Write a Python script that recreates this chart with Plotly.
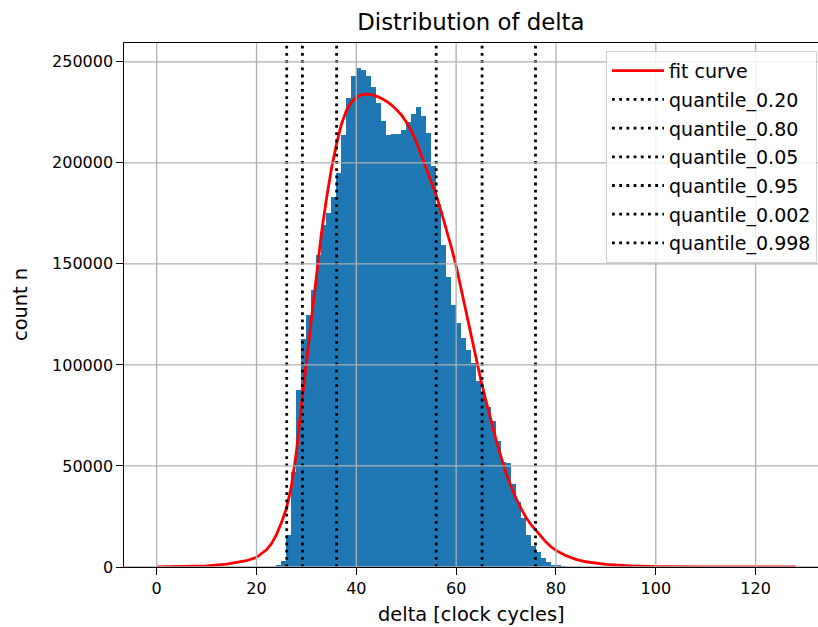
import plotly.graph_objects as go

# ---------------- data ----------------
bin_left = list(range(24, 82))
bin_width = 1.0
counts = [650, 2800, 15900, 46800, 87600, 112800, 124600, 136900, 154300, 169100,
          175000, 183100, 194800, 213700, 231900, 242800, 247000, 246000, 242800, 237500,
          229700, 220800, 214000, 214300, 214300, 216100, 220400, 224200, 227500, 223200,
          214700, 198200, 179400, 159400, 143600, 129700, 120600, 113300, 107400, 100800,
          92100, 85600, 79300, 72400, 62400, 52000, 51500, 41300, 32300, 24100,
          15800, 10600, 7600, 4300, 2300, 1000, 650, 450]

fit_x = [0, 5, 10, 14, 16, 18, 20, 22, 23, 24, 25, 26, 27, 28, 29, 30, 31, 32, 33, 34, 35,
         36, 37, 38, 39, 40, 41, 42, 43, 44, 45, 46, 47, 48, 49, 50, 51, 52, 53, 54, 55,
         56, 57, 58, 59, 60, 61, 62, 63, 64, 65, 66, 67, 68, 69, 70, 71, 72, 73, 74, 75,
         76, 77, 78, 79, 80, 82, 84, 86, 88, 90, 95, 100, 110, 120, 128]
fit_y = [100, 200, 500, 1400, 2100, 3100, 4800, 8500, 11500, 16000, 22000, 29000, 40000, 57000, 80000, 102000, 124000, 145000, 165000, 182000, 197000,
         209000, 219000, 225800, 230000, 232500, 233600, 234000, 233700, 233000, 232000, 230500, 228700, 226400, 223800, 220200, 215900, 210500, 203800, 196500, 190000,
         184000, 176000, 167500, 158500, 149000, 137500, 126000, 114000, 102500, 92000, 82000, 72000, 63000, 54500, 46500, 40000, 34000, 29000, 24500, 21000,
         18000, 15000, 12300, 10000, 8200, 5600, 3800, 2600, 1800, 1300, 550, 220, 50, 10, 0]

quantile_names = ["quantile_0.20", "quantile_0.80", "quantile_0.05",
                  "quantile_0.95", "quantile_0.002", "quantile_0.998"]
quantile_vals = [36.05, 56.0, 29.2, 65.2, 26.05, 75.9]

x_ticks = [0, 20, 40, 60, 80, 100, 120]
y_ticks = [0, 50000, 100000, 150000, 200000, 250000]
x_range = [-6.55, 132.5]
y_range = [0, 259300]

title = "Distribution of delta"
x_label = "delta [clock cycles]"
y_label = "count n"

# ---------------- figure ----------------
FONT = "DejaVu Sans"
TICK_SIZE = 16
LABEL_SIZE = 19.4
TITLE_SIZE = 22.8
LEGEND_SIZE = 19

fig = go.Figure()

fig.add_trace(go.Bar(
    x=[b + bin_width / 2 for b in bin_left], y=counts, width=bin_width,
    marker=dict(color="#1f77b4", line=dict(width=0)),
    showlegend=False, hoverinfo="skip"))

fig.add_trace(go.Scatter(
    x=fit_x, y=fit_y, mode="lines", name="fit curve",
    line=dict(color="#ff0000", width=2.8), legendgroup="g0"))

for i, (nm, q) in enumerate(zip(quantile_names, quantile_vals)):
    fig.add_trace(go.Scatter(
        x=[q, q], y=y_range, mode="lines", name=nm,
        line=dict(color="black", width=2.8, dash="2.8px,4.4px"),
        legendgroup="g%d" % (i + 1)))

# grid drawn above bars (like matplotlib patches below grid)
shapes = []
for t in x_ticks:
    shapes.append(dict(type="line", xref="x", yref="paper", x0=t, x1=t, y0=0, y1=1,
                       line=dict(color="#b0b0b0", width=1.3), layer="above"))
for t in y_ticks:
    shapes.append(dict(type="line", xref="paper", yref="y", x0=0, x1=1, y0=t, y1=t,
                       line=dict(color="#b0b0b0", width=1.3), layer="above"))

fig.update_layout(
    width=818, height=627,
    margin=dict(l=124, r=0, t=43, b=60, autoexpand=False),
    paper_bgcolor="white", plot_bgcolor="white",
    font=dict(family=FONT, size=TICK_SIZE, color="black"),
    bargap=0,
    shapes=shapes,
    title=dict(text=title, x=0.5757, xanchor="center", y=1 - 22 / 627, yanchor="middle",
               yref="container", font=dict(size=TITLE_SIZE, family=FONT, color="black")),
    legend=dict(x=0.9986, xanchor="right", y=0.985, yanchor="top",
                bgcolor="rgba(255,255,255,0.85)", bordercolor="#d0d0d0", borderwidth=1,
                font=dict(size=LEGEND_SIZE, family=FONT, color="black"),
                itemwidth=52,
                traceorder="grouped", tracegroupgap=1),
    annotations=[
        dict(text=x_label, xref="paper", yref="paper", x=0.5, y=(567 - 614) / 524,
             xanchor="center", yanchor="middle", showarrow=False,
             font=dict(size=LABEL_SIZE, family=FONT, color="black")),
        dict(text=y_label, xref="paper", yref="paper", x=(20 - 124) / 694, y=0.5,
             xanchor="center", yanchor="middle", showarrow=False, textangle=-90,
             font=dict(size=LABEL_SIZE, family=FONT, color="black")),
    ],
)

fig.update_xaxes(range=x_range, tickvals=x_ticks, ticktext=[str(t) for t in x_ticks],
                 showgrid=False, zeroline=False, showline=True, linecolor="black",
                 linewidth=1.3, mirror=True, ticks="outside", ticklen=6.5, tickwidth=1.3,
                 tickcolor="black", tickfont=dict(size=TICK_SIZE, family=FONT, color="black"))
fig.update_yaxes(range=y_range, tickvals=y_ticks, ticktext=[str(t) for t in y_ticks],
                 showgrid=False, zeroline=False, showline=True, linecolor="black",
                 linewidth=1.3, mirror=False, ticks="outside", ticklen=6.5, tickwidth=1.3,
                 tickcolor="black", tickfont=dict(size=TICK_SIZE, family=FONT, color="black"))

fig.write_html("out.html")
